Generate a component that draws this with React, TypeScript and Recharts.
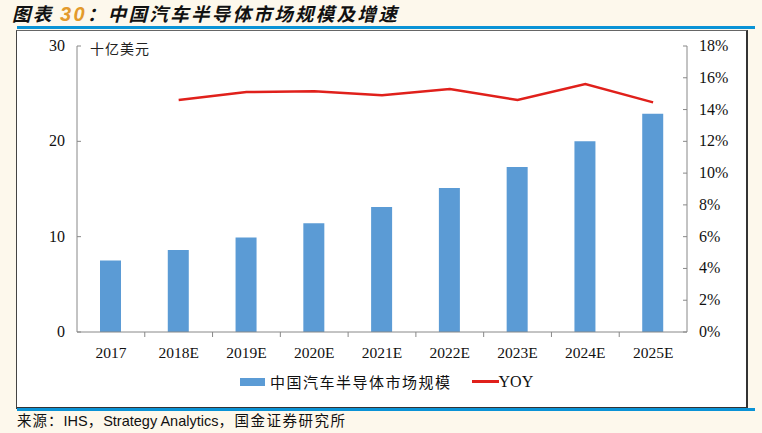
import React from "react";
import {
  ComposedChart,
  Bar,
  Line,
  XAxis,
  YAxis,
} from "recharts";

const years = ["2017", "2018E", "2019E", "2020E", "2021E", "2022E", "2023E", "2024E", "2025E"];
const marketSize = [7.5, 8.6, 9.9, 11.4, 13.1, 15.1, 17.3, 20.0, 22.9];
const yoy = [null, 14.6, 15.1, 15.15, 14.9, 15.3, 14.6, 15.6, 14.45];
const leftTicks = [0, 10, 20, 30];
const rightTicks = [0, 2, 4, 6, 8, 10, 12, 14, 16, 18];

const data = years.map((year, i) => ({
  year,
  size: marketSize[i],
  yoy: yoy[i],
}));

const SERIF = '"Liberation Serif", "Times New Roman", serif';
const CJK = '"Noto Sans CJK SC", sans-serif';
const AXIS = "#888888";
const BAND = 610 / years.length;

function LeftTick({ x, y, payload }: any) {
  const ax = x + 12;
  return (
    <g>
      <line x1={ax} x2={ax + 4} y1={y} y2={y} stroke={AXIS} />
      <text x={x} y={y} dy={5} textAnchor="end" fontFamily={SERIF} fontSize={16} fill="#111">
        {payload.value}
      </text>
    </g>
  );
}

function RightTick({ x, y, payload }: any) {
  const ax = x - 12;
  return (
    <g>
      <line x1={ax - 4} x2={ax} y1={y} y2={y} stroke={AXIS} />
      <text x={x} y={y} dy={5} textAnchor="start" fontFamily={SERIF} fontSize={16} fill="#111">
        {`${payload.value}%`}
      </text>
    </g>
  );
}

function CatTick({ x, y, payload, index }: any) {
  return (
    <g>
      {index > 0 && (
        <line x1={x - BAND / 2} x2={x - BAND / 2} y1={y} y2={y + 5} stroke={AXIS} />
      )}
      <text x={x} y={y} dy={26} textAnchor="middle" fontFamily={SERIF} fontSize={15.5} fill="#111">
        {payload.value}
      </text>
    </g>
  );
}

export default function App() {
  return (
    <div
      style={{
        position: "fixed",
        left: 0,
        top: 0,
        width: 762,
        height: 433,
        background: "#fdf8ec",
        overflow: "hidden",
      }}
    >
      <div
        style={{
          position: "absolute",
          left: 12,
          top: 3,
          fontFamily: CJK,
          fontWeight: 700,
          fontStyle: "italic",
          fontSize: 18.5,
          lineHeight: "20px",
          color: "#111",
          whiteSpace: "nowrap",
          letterSpacing: 2.3,
        }}
      >
        图表 <span style={{ color: "#e39a2c", fontFamily: '"Liberation Sans", Arial, sans-serif', fontSize: 20 }}>30</span>：中国汽车半导体市场规模及增速
      </div>
      <div style={{ position: "absolute", left: 17, top: 26, width: 738, height: 3, background: "#0a93d6" }} />
      <div
        style={{
          position: "absolute",
          left: 16,
          top: 30,
          width: 729,
          height: 376,
          background: "#fff",
          borderLeft: "1px solid #444",
          borderTop: "1px solid #666",
          borderRight: "2px solid #333",
          borderBottom: "2px solid #333",
        }}
      />
      <div style={{ position: "absolute", left: 17, top: 408, width: 738, height: 3, background: "#0a93d6" }} />
      <div
        style={{
          position: "absolute",
          left: 17,
          top: 412,
          fontSize: 14.5,
          lineHeight: "18px",
          fontFamily: '"Liberation Sans", Arial, "Noto Sans CJK SC", sans-serif',
          color: "#111",
          whiteSpace: "nowrap",
        }}
      >
        <span style={{ letterSpacing: 1 }}>来源：</span>IHS<span style={{ letterSpacing: 1 }}>，</span>Strategy Analytics<span style={{ letterSpacing: 1.5 }}>，国金证券研究所</span>
      </div>

      <div style={{ position: "absolute", left: 0, top: 0 }}>
        <ComposedChart
          width={762}
          height={400}
          data={data}
          margin={{ top: 46, right: 15, bottom: 38, left: 17 }}
        >
          <XAxis
            dataKey="year"
            stroke={AXIS}
            tickLine={false}
            tickSize={0}
            tickMargin={0}
            interval={0}
            tick={<CatTick />}
            height={30}
          />
          <YAxis
            yAxisId="left"
            domain={[0, 30]}
            ticks={leftTicks}
            stroke={AXIS}
            tickLine={false}
            tickSize={0}
            tickMargin={12}
            tick={<LeftTick />}
            width={60}
            interval={0}
          />
          <YAxis
            yAxisId="right"
            orientation="right"
            domain={[0, 18]}
            ticks={rightTicks}
            stroke={AXIS}
            tickLine={false}
            tickSize={0}
            tickMargin={12}
            tick={<RightTick />}
            width={60}
            interval={0}
          />
          <Bar
            yAxisId="left"
            dataKey="size"
            fill="#5b9bd5"
            barSize={21}
            isAnimationActive={false}
          />
          <Line
            yAxisId="right"
            dataKey="yoy"
            stroke="#e0201b"
            strokeWidth={2.5}
            dot={false}
            connectNulls={false}
            isAnimationActive={false}
          />
        </ComposedChart>
      </div>

      <div
        style={{
          position: "absolute",
          left: 90,
          top: 38,
          fontFamily: CJK,
          fontSize: 14,
          color: "#222",
          letterSpacing: 1,
        }}
      >
        十亿美元
      </div>

      <div
        style={{
          position: "absolute",
          left: 240,
          top: 371,
          display: "flex",
          alignItems: "center",
          fontSize: 15,
          color: "#111",
          whiteSpace: "nowrap",
        }}
      >
        <span style={{ display: "inline-block", width: 25, height: 8, background: "#5b9bd5", marginRight: 5 }} />
        <span style={{ fontFamily: CJK, letterSpacing: 1.5 }}>中国汽车半导体市场规模</span>
        <span style={{ display: "inline-block", width: 27, height: 3, background: "#e0201b", marginLeft: 20 }} />
        <span style={{ fontFamily: SERIF, fontSize: 16 }}>YOY</span>
      </div>
    </div>
  );
}
